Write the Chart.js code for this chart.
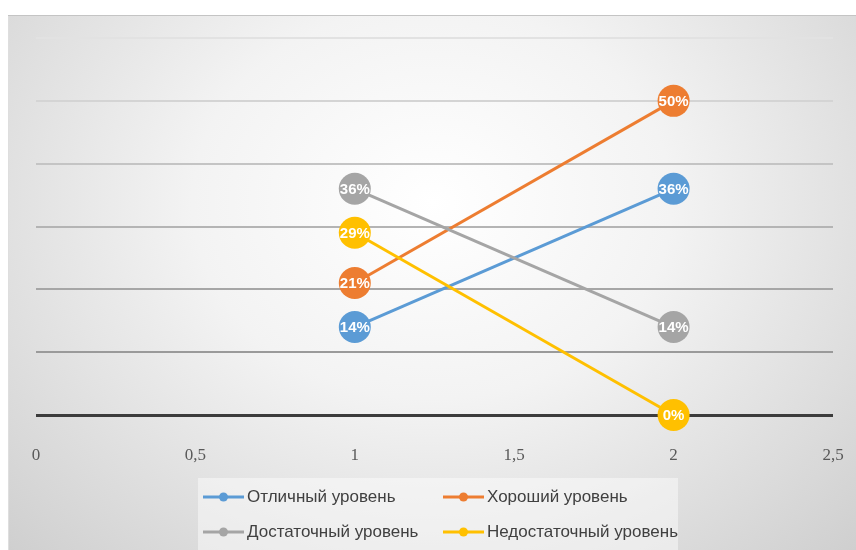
<!DOCTYPE html>
<html><head><meta charset="utf-8">
<script src="https://cdn.jsdelivr.net/npm/chart.js@4.4.1/dist/chart.umd.min.js"></script>
<style>
html,body{margin:0;padding:0;background:#fff;width:856px;height:550px;overflow:hidden;}
#box{position:absolute;left:8px;top:15px;width:848px;height:535px;
background:radial-gradient(ellipse farthest-corner at 50% 35%, #ffffff 0%, #f3f3f3 40%, #cfcfcf 100%);
box-shadow:inset 0 1px 0 #c4c4c4, inset 1px 0 0 #dedede;}
</style></head><body>
<div id="box"><canvas id="c"></canvas></div>
<script>
// ---- data ----
const xValues = [1, 2];
const seriesNames = ['Отличный уровень', 'Хороший уровень', 'Достаточный уровень', 'Недостаточный уровень'];
const excellent = [14, 36];
const good = [21, 50];
const sufficient = [36, 14];
const insufficient = [29, 0];
const xTickValues = [0, 0.5, 1, 1.5, 2, 2.5];
const yGridValues = [0, 10, 20, 30, 40, 50, 60];

const seriesValues = [excellent, good, sufficient, insufficient];
const seriesColors = ['#5B9BD5', '#ED7D31', '#A5A5A5', '#FFC000'];

const datasets = seriesValues.map((vals, i) => ({
  label: seriesNames[i],
  data: xValues.map((x, j) => ({ x: x, y: vals[j] })),
  borderColor: seriesColors[i],
  backgroundColor: seriesColors[i],
  pointBackgroundColor: seriesColors[i],
  pointBorderWidth: 0,
  pointRadius: 16,
  pointHoverRadius: 16,
  borderWidth: 3,
  showLine: true,
  fill: false,
  clip: false,
  order: seriesValues.length - i
}));

const gridColors = { 0: '#3c3c3c', 10: '#9a9a9a', 20: '#a6a6a6', 30: '#b4b4b4', 40: '#c4c4c4', 50: '#d4d4d4', 60: '#e2e2e2' };

const dataLabelsPlugin = {
  id: 'dataLabels',
  afterDatasetsDraw(chart) {
    const ctx = chart.ctx;
    ctx.save();
    ctx.font = 'bold 15px "Liberation Sans", Arial, sans-serif';
    ctx.fillStyle = '#ffffff';
    ctx.textAlign = 'center';
    ctx.textBaseline = 'middle';
    chart.data.datasets.forEach((ds, i) => {
      const meta = chart.getDatasetMeta(i);
      meta.data.forEach((el, j) => {
        ctx.fillText(ds.data[j].y + '%', el.x, el.y + 1);
      });
    });
    ctx.restore();
  }
};

const customLegend = {
  id: 'customLegend',
  afterDraw(chart) {
    const ctx = chart.ctx;
    const w = 480, h = 74;
    const left = chart.width / 2 + 6 - w / 2;
    const top = chart.height - h + 2;
    ctx.save();
    ctx.fillStyle = 'rgba(255,255,255,0.45)';
    ctx.fillRect(left, top, w, h);
    const cols = [5, 245];
    const rows = [19, 54];
    ctx.font = '17px "Liberation Sans", Arial, sans-serif';
    ctx.textBaseline = 'middle';
    ctx.textAlign = 'left';
    chart.data.datasets.forEach((ds, i) => {
      const cx = left + cols[i % 2];
      const cy = top + rows[Math.floor(i / 2)];
      ctx.strokeStyle = ds.borderColor;
      ctx.lineWidth = 3;
      ctx.beginPath();
      ctx.moveTo(cx, cy);
      ctx.lineTo(cx + 41, cy);
      ctx.stroke();
      ctx.fillStyle = ds.borderColor;
      ctx.beginPath();
      ctx.arc(cx + 20.5, cy, 4.5, 0, Math.PI * 2);
      ctx.fill();
      ctx.fillStyle = '#404040';
      ctx.fillText(ds.label, cx + 44, cy);
    });
    ctx.restore();
  }
};

new Chart(document.getElementById('c'), {
  type: 'line',
  data: { datasets: datasets },
  options: {
    responsive: true,
    maintainAspectRatio: false,
    animation: false,
    layout: { padding: { top: 23, left: 28, right: 23, bottom: 0 } },
    plugins: { legend: { display: false }, tooltip: { enabled: false } },
    scales: {
      x: {
        type: 'linear',
        min: 0, max: 2.5,
        afterBuildTicks: (s) => { s.ticks = xTickValues.map(v => ({ value: v })); },
        afterFit: (s) => { s.height = 135; s.paddingLeft = 0; s.paddingRight = 0; },
        grid: { display: false },
        border: { display: false },
        ticks: {
          padding: 22,
          color: '#595959',
          font: { family: '"Liberation Serif", "Times New Roman", serif', size: 17 },
          callback: (v) => String(v).replace('.', ','),
          maxRotation: 0
        }
      },
      y: {
        min: 0, max: 60,
        afterBuildTicks: (s) => { s.ticks = yGridValues.map(v => ({ value: v })); },
        afterFit: (s) => { s.width = 0; },
        ticks: { display: false },
        border: { display: false },
        grid: {
          drawTicks: false,
          color: (c) => gridColors[c.tick.value] || '#bbbbbb',
          lineWidth: (c) => c.tick.value === 0 ? 3 : 2
        }
      }
    }
  },
  plugins: [dataLabelsPlugin, customLegend]
});
</script>
</body></html>
